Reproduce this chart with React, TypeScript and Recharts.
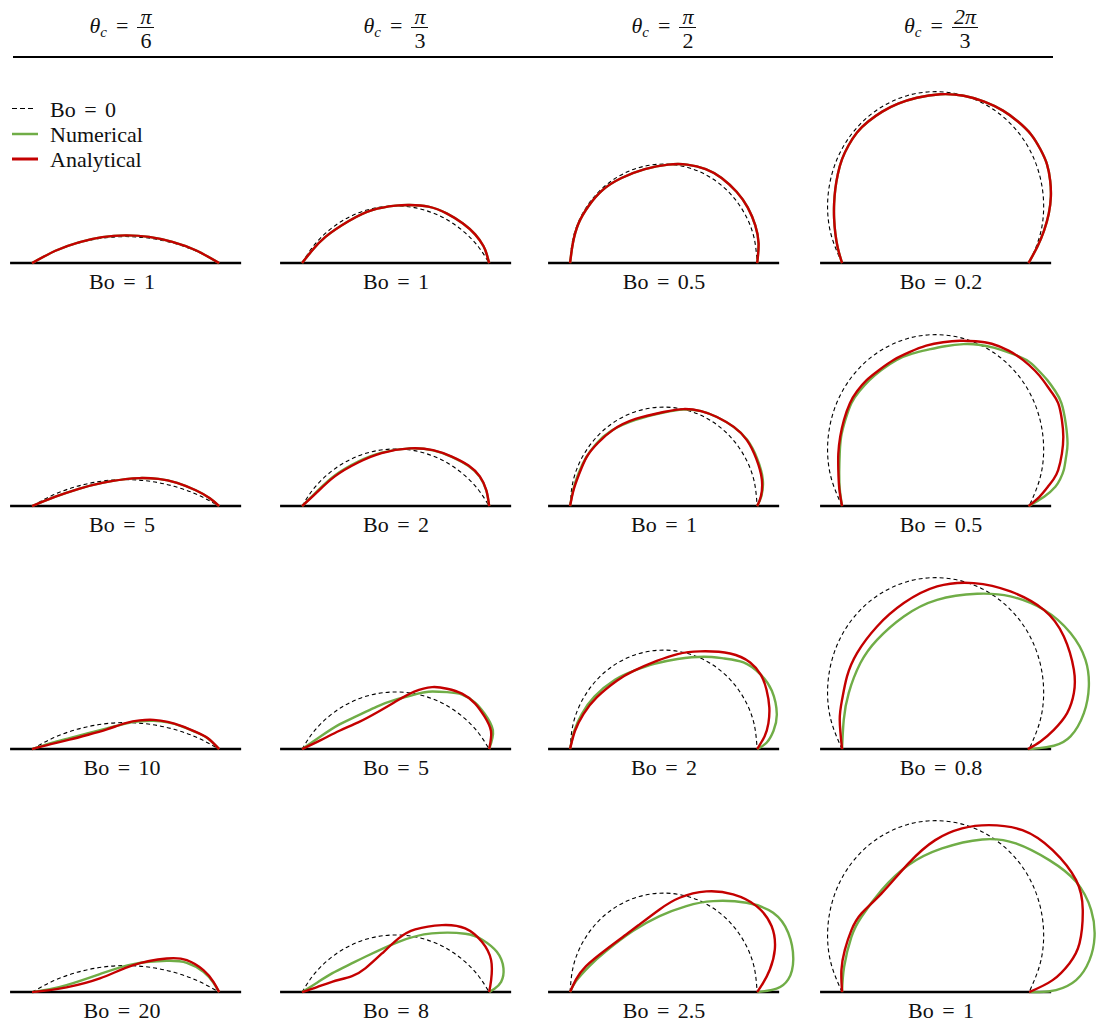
import React from "react";
import { LineChart, Line, XAxis, YAxis } from "recharts";

type Pt = [number, number];

// x: contact half-width = 1, y: height in the same units (Bo = 0 semicircle reaches 1)
const substrate: Pt[] = [[-1.235, 0], [1.235, 0]];

// Bo = 0 spherical caps
const capPi6: Pt[] = [[-1, 0], [-0.765, 0.116], [-0.518, 0.2], [-0.261, 0.251], [0, 0.268], [0.261, 0.251], [0.518, 0.2], [0.765, 0.116], [1, 0]];
const capPi3: Pt[] = [[-1, 0], [-0.885, 0.165], [-0.742, 0.307], [-0.577, 0.423], [-0.395, 0.508], [-0.2, 0.56], [0, 0.577], [0.2, 0.56], [0.395, 0.508], [0.577, 0.423], [0.742, 0.307], [0.885, 0.165], [1, 0]];
const capPi2: Pt[] = [[-1, 0], [-0.966, 0.259], [-0.866, 0.5], [-0.707, 0.707], [-0.5, 0.866], [-0.259, 0.966], [0, 1], [0.259, 0.966], [0.5, 0.866], [0.707, 0.707], [0.866, 0.5], [0.966, 0.259], [1, 0]];
const cap2Pi3: Pt[] = [[-1, 0], [-1.115, 0.279], [-1.155, 0.577], [-1.115, 0.876], [-1, 1.155], [-0.816, 1.394], [-0.577, 1.577], [-0.299, 1.693], [0, 1.732], [0.299, 1.693], [0.577, 1.577], [0.816, 1.394], [1, 1.155], [1.115, 0.876], [1.155, 0.577], [1.115, 0.279], [1, 0]];

// row 1
const anaPi6Bo1: Pt[] = [[-1, 0], [-0.75, 0.125], [-0.5, 0.21], [-0.25, 0.262], [0, 0.28], [0.25, 0.265], [0.5, 0.215], [0.75, 0.13], [1, 0]];
const anaPi3Bo1: Pt[] = [[-1, 0], [-0.9, 0.12], [-0.75, 0.265], [-0.5, 0.425], [-0.25, 0.535], [0, 0.58], [0.15, 0.587], [0.35, 0.57], [0.55, 0.5], [0.72, 0.4], [0.85, 0.29], [0.94, 0.17], [0.975, 0.085], [1, 0]];
const anaPi2Bo05: Pt[] = [[-1, 0], [-0.97, 0.2], [-0.91, 0.4], [-0.8, 0.58], [-0.65, 0.74], [-0.45, 0.86], [-0.2, 0.95], [0.05, 0.995], [0.25, 0.995], [0.45, 0.95], [0.62, 0.86], [0.78, 0.72], [0.9, 0.56], [0.98, 0.38], [1.015, 0.2], [1, 0]];
const ana2Pi3Bo02: Pt[] = [[-1, 0], [-1.045, 0.15], [-1.072, 0.3], [-1.085, 0.45], [-1.085, 0.6], [-1.072, 0.75], [-1.045, 0.9], [-1, 1.05], [-0.93, 1.19], [-0.84, 1.32], [-0.72, 1.43], [-0.57, 1.53], [-0.4, 1.61], [-0.2, 1.67], [0.05, 1.705], [0.3, 1.69], [0.52, 1.63], [0.72, 1.54], [0.88, 1.43], [1.02, 1.3], [1.12, 1.15], [1.19, 1], [1.225, 0.83], [1.232, 0.67], [1.21, 0.5], [1.16, 0.33], [1.09, 0.17], [0.993, 0]];

// row 2
const anaPi6Bo5: Pt[] = [[-1, 0], [-0.75, 0.095], [-0.5, 0.175], [-0.25, 0.235], [0, 0.272], [0.15, 0.283], [0.35, 0.275], [0.55, 0.235], [0.75, 0.16], [0.9, 0.08], [1, 0]];
const anaPi3Bo2: Pt[] = [[-1, 0], [-0.85, 0.13], [-0.65, 0.3], [-0.4, 0.44], [-0.15, 0.535], [0.15, 0.583], [0.4, 0.565], [0.6, 0.5], [0.78, 0.41], [0.9, 0.3], [0.97, 0.16], [1, 0]];
const numPi3Bo2: Pt[] = [[-1, 0], [-0.85, 0.14], [-0.65, 0.31], [-0.4, 0.45], [-0.15, 0.54], [0.15, 0.583], [0.4, 0.563], [0.6, 0.498], [0.78, 0.405], [0.9, 0.295], [0.97, 0.155], [1, 0]];
const anaPi2Bo1: Pt[] = [[-1, 0], [-0.96, 0.17], [-0.9, 0.33], [-0.82, 0.5], [-0.7, 0.64], [-0.54, 0.77], [-0.3, 0.88], [0, 0.95], [0.21, 0.98], [0.4, 0.96], [0.57, 0.9], [0.75, 0.8], [0.89, 0.667], [0.99, 0.48], [1.05, 0.27], [1.04, 0.1], [1, 0]];
const numPi2Bo1: Pt[] = [[-1, 0], [-0.965, 0.17], [-0.91, 0.33], [-0.83, 0.49], [-0.72, 0.63], [-0.56, 0.76], [-0.3, 0.87], [0, 0.945], [0.21, 0.975], [0.4, 0.96], [0.57, 0.9], [0.75, 0.8], [0.895, 0.667], [1, 0.48], [1.06, 0.27], [1.045, 0.1], [1, 0]];
const ana2Pi3Bo05: Pt[] = [[-1, 0], [-1.03, 0.18], [-1.04, 0.364], [-1.04, 0.53], [-1.02, 0.7], [-0.98, 0.87], [-0.916, 1.04], [-0.84, 1.16], [-0.74, 1.27], [-0.61, 1.37], [-0.45, 1.475], [-0.28, 1.555], [-0.1, 1.62], [0.08, 1.655], [0.26, 1.67], [0.43, 1.665], [0.6, 1.64], [0.78, 1.57], [0.936, 1.475], [1.06, 1.37], [1.15, 1.27], [1.24, 1.15], [1.31, 1.04], [1.35, 0.87], [1.365, 0.7], [1.35, 0.53], [1.31, 0.364], [1.26, 0.27], [1.2, 0.195], [1.11, 0.094], [0.993, 0]];
const num2Pi3Bo05: Pt[] = [[-1, 0], [-1.025, 0.18], [-1.03, 0.364], [-1.025, 0.53], [-1.01, 0.7], [-0.965, 0.87], [-0.9, 1.04], [-0.815, 1.16], [-0.71, 1.27], [-0.58, 1.375], [-0.42, 1.475], [-0.25, 1.54], [-0.08, 1.58], [0.1, 1.615], [0.3, 1.636], [0.46, 1.63], [0.62, 1.6], [0.8, 1.545], [0.972, 1.475], [1.09, 1.38], [1.196, 1.27], [1.28, 1.16], [1.345, 1.04], [1.39, 0.84], [1.41, 0.633], [1.395, 0.5], [1.37, 0.364], [1.33, 0.27], [1.28, 0.195], [1.16, 0.094], [0.993, 0]];

// row 3
const anaPi6Bo10: Pt[] = [[-1, 0], [-0.8, 0.05], [-0.6, 0.095], [-0.4, 0.145], [-0.2, 0.2], [0, 0.262], [0.15, 0.29], [0.3, 0.295], [0.45, 0.275], [0.6, 0.232], [0.75, 0.175], [0.88, 0.11], [1, 0]];
const numPi6Bo10: Pt[] = [[-1, 0], [-0.8, 0.06], [-0.6, 0.11], [-0.4, 0.16], [-0.2, 0.21], [0, 0.258], [0.15, 0.28], [0.3, 0.285], [0.45, 0.27], [0.6, 0.23], [0.75, 0.172], [0.88, 0.108], [1, 0]];
const anaPi3Bo5: Pt[] = [[-1, 0], [-0.8, 0.09], [-0.6, 0.185], [-0.4, 0.27], [-0.2, 0.37], [0, 0.48], [0.2, 0.58], [0.39, 0.626], [0.55, 0.61], [0.71, 0.56], [0.85, 0.46], [0.95, 0.33], [1.02, 0.18], [1, 0]];
const numPi3Bo5: Pt[] = [[-1, 0], [-0.8, 0.13], [-0.6, 0.25], [-0.4, 0.34], [-0.2, 0.43], [0, 0.5], [0.2, 0.55], [0.35, 0.58], [0.55, 0.575], [0.71, 0.55], [0.85, 0.47], [0.95, 0.36], [1.04, 0.19], [1, 0]];
const anaPi2Bo2: Pt[] = [[-1, 0], [-0.947, 0.185], [-0.857, 0.354], [-0.715, 0.522], [-0.5, 0.69], [-0.32, 0.79], [-0.073, 0.89], [0.15, 0.96], [0.39, 0.987], [0.711, 0.966], [0.925, 0.875], [1.04, 0.75], [1.1, 0.6], [1.13, 0.42], [1.12, 0.26], [1.08, 0.13], [1, 0]];
const numPi2Bo2: Pt[] = [[-1, 0], [-0.955, 0.185], [-0.875, 0.354], [-0.74, 0.53], [-0.52, 0.7], [-0.32, 0.79], [-0.1, 0.86], [0.15, 0.91], [0.43, 0.933], [0.65, 0.915], [0.854, 0.875], [1.032, 0.758], [1.157, 0.589], [1.21, 0.354], [1.175, 0.185], [1.103, 0.067], [1, 0]];
const ana2Pi3Bo08: Pt[] = [[-1, 0], [-1.025, 0.296], [-1, 0.498], [-0.947, 0.734], [-0.84, 0.97], [-0.626, 1.239], [-0.34, 1.475], [0.016, 1.643], [0.408, 1.677], [0.8, 1.593], [1.157, 1.407], [1.371, 1.138], [1.478, 0.801], [1.478, 0.566], [1.406, 0.364], [1.264, 0.195], [1.121, 0.077], [0.986, 0]];
const num2Pi3Bo08: Pt[] = [[-1, 0], [-0.982, 0.296], [-0.929, 0.566], [-0.804, 0.869], [-0.626, 1.104], [-0.34, 1.34], [0.016, 1.508], [0.444, 1.569], [0.8, 1.542], [1.157, 1.407], [1.442, 1.172], [1.602, 0.902], [1.638, 0.633], [1.585, 0.364], [1.442, 0.128], [1.264, 0.034], [1.086, 0.007], [0.986, 0]];

// row 4
const anaPi6Bo20: Pt[] = [[-1, 0], [-0.81, 0.02], [-0.632, 0.047], [-0.275, 0.138], [0.082, 0.273], [0.439, 0.34], [0.654, 0.323], [0.832, 0.222], [0.939, 0.104], [1, 0]];
const numPi6Bo20: Pt[] = [[-1, 0], [-0.81, 0.03], [-0.632, 0.07], [-0.275, 0.182], [0.082, 0.283], [0.439, 0.316], [0.654, 0.296], [0.832, 0.205], [0.939, 0.094], [1, 0]];
const anaPi3Bo8: Pt[] = [[-1, 0], [-0.84, 0.05], [-0.68, 0.104], [-0.466, 0.162], [-0.324, 0.239], [-0.146, 0.39], [0.032, 0.542], [0.21, 0.633], [0.495, 0.677], [0.744, 0.643], [0.922, 0.508], [1.021, 0.323], [1.021, 0.121], [1, 0]];
const numPi3Bo8: Pt[] = [[-1, 0], [-0.84, 0.095], [-0.68, 0.189], [-0.5, 0.275], [-0.324, 0.357], [0.032, 0.508], [0.388, 0.593], [0.744, 0.59], [0.922, 0.532], [1.082, 0.407], [1.153, 0.239], [1.128, 0.104], [1.057, 0.034], [1, 0]];
const anaPi2Bo25: Pt[] = [[-1, 0], [-0.936, 0.128], [-0.829, 0.263], [-0.614, 0.431], [-0.4, 0.582], [-0.257, 0.684], [-0.043, 0.835], [0.171, 0.953], [0.457, 1.017], [0.743, 0.987], [0.993, 0.869], [1.154, 0.667], [1.189, 0.431], [1.136, 0.229], [1.064, 0.094], [1, 0]];
const numPi2Bo25: Pt[] = [[-1, 0], [-0.936, 0.111], [-0.793, 0.263], [-0.614, 0.414], [-0.329, 0.616], [-0.043, 0.768], [0.243, 0.869], [0.529, 0.919], [0.886, 0.902], [1.171, 0.801], [1.332, 0.599], [1.386, 0.33], [1.332, 0.128], [1.207, 0.034], [1.064, 0.007], [1, 0]];
const ana2Pi3Bo1: Pt[] = [[-1, 0], [-1.007, 0.222], [-0.971, 0.424], [-0.9, 0.626], [-0.792, 0.795], [-0.577, 0.997], [-0.29, 1.3], [-0.004, 1.535], [0.283, 1.653], [0.57, 1.687], [0.928, 1.636], [1.251, 1.434], [1.502, 1.131], [1.573, 0.828], [1.538, 0.492], [1.43, 0.29], [1.251, 0.121], [1, 0]];
const num2Pi3Bo1: Pt[] = [[-1, 0], [-0.978, 0.256], [-0.9, 0.559], [-0.792, 0.761], [-0.577, 1.03], [-0.29, 1.283], [0.068, 1.451], [0.498, 1.542], [0.857, 1.502], [1.215, 1.333], [1.502, 1.114], [1.663, 0.828], [1.699, 0.559], [1.645, 0.323], [1.502, 0.121], [1.287, 0.02], [1.108, 0], [1, 0]];

const angles = [["π", "6"], ["π", "3"], ["π", "2"], ["2π", "3"]];

const panels = [
  { row: 0, col: 0, bo: "1", cap: capPi6, num: anaPi6Bo1, ana: anaPi6Bo1 },
  { row: 0, col: 1, bo: "1", cap: capPi3, num: anaPi3Bo1, ana: anaPi3Bo1 },
  { row: 0, col: 2, bo: "0.5", cap: capPi2, num: anaPi2Bo05, ana: anaPi2Bo05 },
  { row: 0, col: 3, bo: "0.2", cap: cap2Pi3, num: ana2Pi3Bo02, ana: ana2Pi3Bo02 },
  { row: 1, col: 0, bo: "5", cap: capPi6, num: anaPi6Bo5, ana: anaPi6Bo5 },
  { row: 1, col: 1, bo: "2", cap: capPi3, num: numPi3Bo2, ana: anaPi3Bo2 },
  { row: 1, col: 2, bo: "1", cap: capPi2, num: numPi2Bo1, ana: anaPi2Bo1 },
  { row: 1, col: 3, bo: "0.5", cap: cap2Pi3, num: num2Pi3Bo05, ana: ana2Pi3Bo05 },
  { row: 2, col: 0, bo: "10", cap: capPi6, num: numPi6Bo10, ana: anaPi6Bo10 },
  { row: 2, col: 1, bo: "5", cap: capPi3, num: numPi3Bo5, ana: anaPi3Bo5 },
  { row: 2, col: 2, bo: "2", cap: capPi2, num: numPi2Bo2, ana: anaPi2Bo2 },
  { row: 2, col: 3, bo: "0.8", cap: cap2Pi3, num: num2Pi3Bo08, ana: ana2Pi3Bo08 },
  { row: 3, col: 0, bo: "20", cap: capPi6, num: numPi6Bo20, ana: anaPi6Bo20 },
  { row: 3, col: 1, bo: "8", cap: capPi3, num: numPi3Bo8, ana: anaPi3Bo8 },
  { row: 3, col: 2, bo: "2.5", cap: capPi2, num: numPi2Bo25, ana: anaPi2Bo25 },
  { row: 3, col: 3, bo: "1", cap: cap2Pi3, num: num2Pi3Bo1, ana: ana2Pi3Bo1 },
];

const RED = "#c40000";
const GREEN = "#70ad47";
const FONT = "'Liberation Serif', 'DejaVu Serif', serif";

// layout (px)
const contactLeft = [32, 302, 570, 842];
const baseY = [263, 506, 749, 992];
const labelX = [122, 396, 664, 941];

const toXY = (pts: Pt[]) => pts.map(([x, y]) => ({ x, y }));

function Drop({ cap, num, ana }: { cap: Pt[]; num: Pt[]; ana: Pt[] }) {
  return (
    <LineChart width={290} height={198} margin={{ top: 0, right: 0, bottom: 0, left: 0 }}>
      <XAxis type="number" dataKey="x" domain={[-1.3, 1.8]} allowDataOverflow hide />
      <YAxis type="number" dataKey="y" domain={[-0.1, 1.9]} allowDataOverflow hide />
      <Line data={toXY(substrate)} dataKey="y" type="linear" stroke="#000" strokeWidth={2.5} dot={false} isAnimationActive={false} />
      <Line data={toXY(cap)} dataKey="y" type="natural" stroke="#000" strokeWidth={1.1} strokeDasharray="4 3" dot={false} isAnimationActive={false} />
      <Line data={toXY(num)} dataKey="y" type="natural" stroke={GREEN} strokeWidth={2.4} dot={false} isAnimationActive={false} />
      <Line data={toXY(ana)} dataKey="y" type="natural" stroke={RED} strokeWidth={2.4} dot={false} isAnimationActive={false} />
    </LineChart>
  );
}

function Header({ num, den, cx }: { num: string; den: string; cx: number }) {
  return (
    <div style={{ position: "absolute", left: cx - 100, width: 200, top: 7, display: "flex", justifyContent: "center", alignItems: "center", fontFamily: FONT, fontSize: 22, color: "#111" }}>
      <span style={{ position: "relative", top: -4, lineHeight: "22px", whiteSpace: "nowrap" }}>
        <i>θ</i>
        <i style={{ fontSize: 15, position: "relative", top: 4 }}>c</i>
        <span style={{ margin: "0 9px" }}>=</span>
      </span>
      <span style={{ display: "inline-flex", flexDirection: "column", alignItems: "center" }}>
        <span style={{ lineHeight: "20px", padding: "0 2px" }}><i>{num}</i></span>
        <span style={{ lineHeight: "26px", borderTop: "1.2px solid #111", padding: "0 3px", alignSelf: "stretch", textAlign: "center" }}>{den}</span>
      </span>
    </div>
  );
}

export default function App() {
  return (
    <div style={{ position: "absolute", left: 0, top: 0, width: 1097, height: 1030, background: "#fff", fontFamily: FONT }}>
      {angles.map(([n, d], i) => (
        <Header key={i} num={n} den={d} cx={labelX[i]} />
      ))}
      <div style={{ position: "absolute", left: 13, top: 56, width: 1040, height: 2, background: "#000" }} />

      <svg style={{ position: "absolute", left: 0, top: 0 }} width={60} height={180}>
        <line x1={12} x2={36} y1={108.5} y2={108.5} stroke="#000" strokeWidth={1.2} strokeDasharray="5 3" />
        <line x1={12} x2={38} y1={134} y2={134} stroke={GREEN} strokeWidth={2.5} />
        <line x1={12} x2={38} y1={159} y2={159} stroke={RED} strokeWidth={3} />
      </svg>
      {["Bo = 0", "Numerical", "Analytical"].map((t, i) => (
        <div key={t} style={{ position: "absolute", left: 50, top: 99 + i * 25, fontSize: 22, lineHeight: "22px", color: "#111", wordSpacing: 3 }}>
          {t}
        </div>
      ))}

      {panels.map((p, i) => (
        <React.Fragment key={i}>
          <div style={{ position: "absolute", left: contactLeft[p.col] - 28, top: baseY[p.row] - 188 }}>
            <Drop cap={p.cap} num={p.num} ana={p.ana} />
          </div>
          <div style={{ position: "absolute", left: labelX[p.col] - 60, width: 120, top: baseY[p.row] + 8, textAlign: "center", fontSize: 22, lineHeight: "22px", color: "#111", wordSpacing: 3 }}>
            Bo = {p.bo}
          </div>
        </React.Fragment>
      ))}
    </div>
  );
}
